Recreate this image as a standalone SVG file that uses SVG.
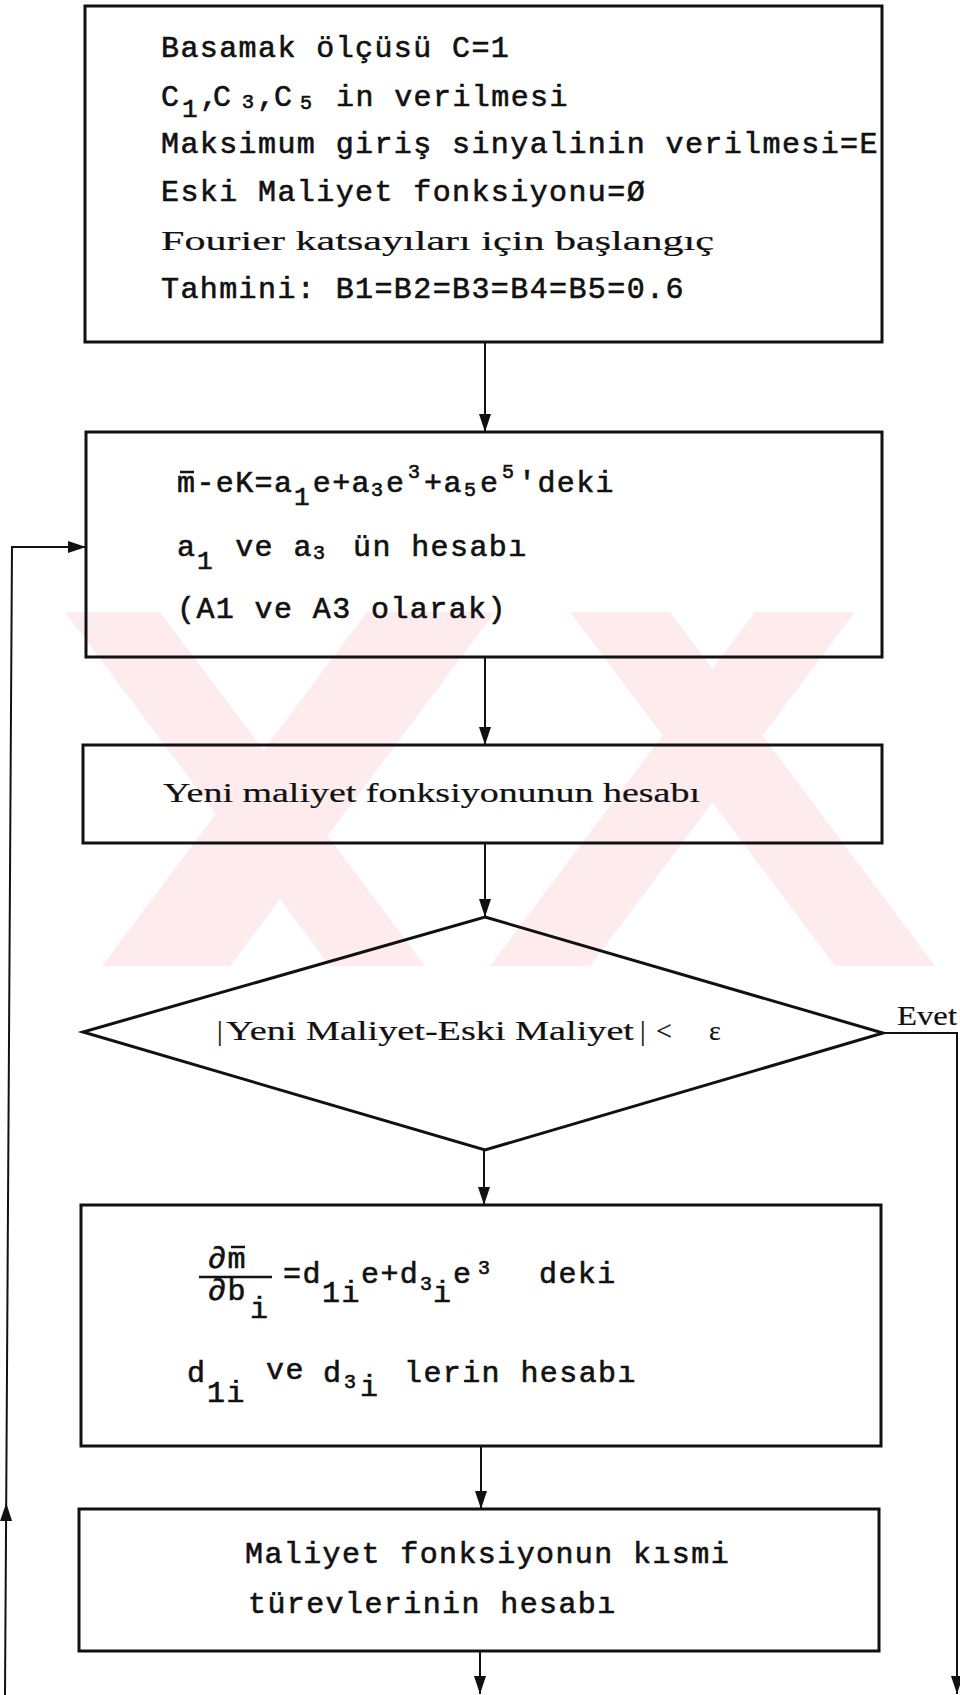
<svg xmlns="http://www.w3.org/2000/svg" width="960" height="1695" viewBox="0 0 960 1695">
<style>
.box{fill:none;stroke:#111;stroke-width:3}
.con{fill:none;stroke:#111;stroke-width:2}
.tw{font-family:"Liberation Mono","Courier New",monospace;font-size:30px;letter-spacing:1.4px;fill:#111;stroke:#111;stroke-width:0.6}
.sm{font-size:20px;letter-spacing:0}
.md{font-size:26px;letter-spacing:0}
.cm{letter-spacing:-7px}
.pr{font-family:"Liberation Serif","Times New Roman",serif;font-size:28px;fill:#111;stroke:#111;stroke-width:0.2}
.wm{fill:#fdebee}
</style>
<defs>
<marker id="ah" viewBox="0 0 18 12" refX="18" refY="6" markerWidth="18" markerHeight="12" markerUnits="userSpaceOnUse" orient="auto">
<path d="M0,0 L18,6 L0,12 Z" fill="#111"/>
</marker>
<clipPath id="wmclip"><rect x="36" y="612" width="924" height="354"/></clipPath>
</defs>
<rect width="960" height="1695" fill="#fff"/>
<g id="watermark" clip-path="url(#wmclip)">
<polygon class="wm" points="65,612 160,612 425,966 330,966"/>
<polygon class="wm" points="367,612 495,612 230,966 102,966"/>
<polygon class="wm" points="570,612 670,612 935,966 835,966"/>
<polygon class="wm" points="755,612 855,612 590,966 490,966"/>
</g>
<g id="connectors">
<line class="con" x1="485" y1="342" x2="485" y2="432" marker-end="url(#ah)"/>
<line class="con" x1="485" y1="657" x2="485" y2="745" marker-end="url(#ah)"/>
<line class="con" x1="485" y1="843" x2="485" y2="917" marker-end="url(#ah)"/>
<line class="con" x1="484" y1="1150" x2="484" y2="1205" marker-end="url(#ah)"/>
<line class="con" x1="481" y1="1446" x2="481" y2="1509" marker-end="url(#ah)"/>
<line class="con" x1="480" y1="1651" x2="480" y2="1694" marker-end="url(#ah)"/>
<polyline class="con" points="883,1033 957,1033 957,1694" marker-end="url(#ah)"/>
<line class="con" x1="5" y1="1695" x2="6.2" y2="1503" marker-end="url(#ah)"/>
<polyline class="con" points="6.2,1503 12,547 86,547" marker-end="url(#ah)"/>
<text class="pr" x="897" y="1025" textLength="60" lengthAdjust="spacingAndGlyphs">Evet</text>
</g>
<g id="n1">
<rect class="box" x="85" y="6" width="797" height="336"/>
<text class="tw" x="161" y="57">Basamak ölçüsü C=1</text>
<text class="tw" y="106"><tspan x="161">C</tspan><tspan class="md" x="182" y="117">1</tspan><tspan class="cm" x="200" y="106">,</tspan><tspan x="213">C</tspan><tspan class="sm" x="242" y="108">3</tspan><tspan class="cm" x="257" y="106">,</tspan><tspan x="274">C</tspan><tspan class="sm" x="300" y="109">5</tspan><tspan x="336" y="106">in verilmesi</tspan></text>
<text class="tw" x="161" y="153">Maksimum giriş sinyalinin verilmesi=E</text>
<text class="tw" x="161" y="201">Eski Maliyet fonksiyonu=Ø</text>
<text class="pr" x="161" y="250" textLength="553" lengthAdjust="spacingAndGlyphs">Fourier katsayıları için başlangıç</text>
<text class="tw" x="161" y="298">Tahmini: B1=B2=B3=B4=B5=0.6</text>
</g>
<g id="n2">
<rect class="box" x="86" y="432" width="796" height="225"/>
<line x1="180" y1="472" x2="194" y2="472" stroke="#111" stroke-width="2.5"/>
<text class="tw" y="492"><tspan x="177">m-eK=a</tspan><tspan class="md" x="294" y="505">1</tspan><tspan x="312.8" y="492">e+a</tspan><tspan class="sm" x="371" y="496">3</tspan><tspan x="386" y="492">e</tspan><tspan class="sm" x="408" y="478">3</tspan><tspan x="424" y="492">+a</tspan><tspan class="sm" x="464" y="496">5</tspan><tspan x="480" y="492">e</tspan><tspan class="sm" x="502" y="478">5</tspan><tspan x="518" y="492">'deki</tspan></text>
<text class="tw" y="556"><tspan x="177">a</tspan><tspan class="md" x="197" y="569">1</tspan><tspan x="235.2" y="556">ve a</tspan><tspan class="sm" x="313" y="559">3</tspan><tspan x="353" y="556">ün hesabı</tspan></text>
<text class="tw" x="177" y="618">(A1 ve A3 olarak)</text>
</g>
<g id="n3">
<rect class="box" x="83" y="745" width="799" height="98"/>
<text class="pr" x="163" y="802" textLength="537" lengthAdjust="spacingAndGlyphs">Yeni maliyet fonksiyonunun hesabı</text>
</g>
<g id="n4">
<polygon class="box" points="485,917 883,1033 485,1150 83,1032"/>
<text class="pr" y="1040"><tspan x="217">|</tspan><tspan x="226" textLength="408" lengthAdjust="spacingAndGlyphs">Yeni Maliyet-Eski Maliyet</tspan><tspan x="640">|</tspan><tspan x="656">&lt;</tspan><tspan x="709">ε</tspan></text>
</g>
<g id="n5">
<rect class="box" x="81" y="1205" width="800" height="241"/>
<text class="tw" x="208" y="1268">∂m</text>
<line x1="231" y1="1247" x2="245" y2="1247" stroke="#111" stroke-width="2.5"/>
<line x1="199" y1="1277" x2="272" y2="1277" stroke="#111" stroke-width="2.5"/>
<text class="tw" y="1300"><tspan x="208">∂b</tspan><tspan x="250" y="1318">i</tspan></text>
<text class="tw" y="1283"><tspan x="283">=d</tspan><tspan x="322" y="1302">1i</tspan><tspan x="361" y="1283">e+d</tspan><tspan class="sm" x="420" y="1290">3</tspan><tspan x="433" y="1302">i</tspan><tspan x="453" y="1283">e</tspan><tspan class="sm" x="478" y="1274">3</tspan><tspan x="539" y="1283">deki</tspan></text>
<text class="tw" y="1382"><tspan x="187">d</tspan><tspan x="207" y="1402">1i</tspan><tspan x="266" y="1379">ve</tspan><tspan x="323" y="1382">d</tspan><tspan class="sm" x="344" y="1388">3</tspan><tspan x="360" y="1396">i</tspan><tspan x="404" y="1382">lerin hesabı</tspan></text>
</g>
<g id="n6">
<rect class="box" x="79" y="1509" width="800" height="142"/>
<text class="tw" x="245" y="1563">Maliyet fonksiyonun kısmi</text>
<text class="tw" x="248" y="1613">türevlerinin hesabı</text>
</g>
</svg>
